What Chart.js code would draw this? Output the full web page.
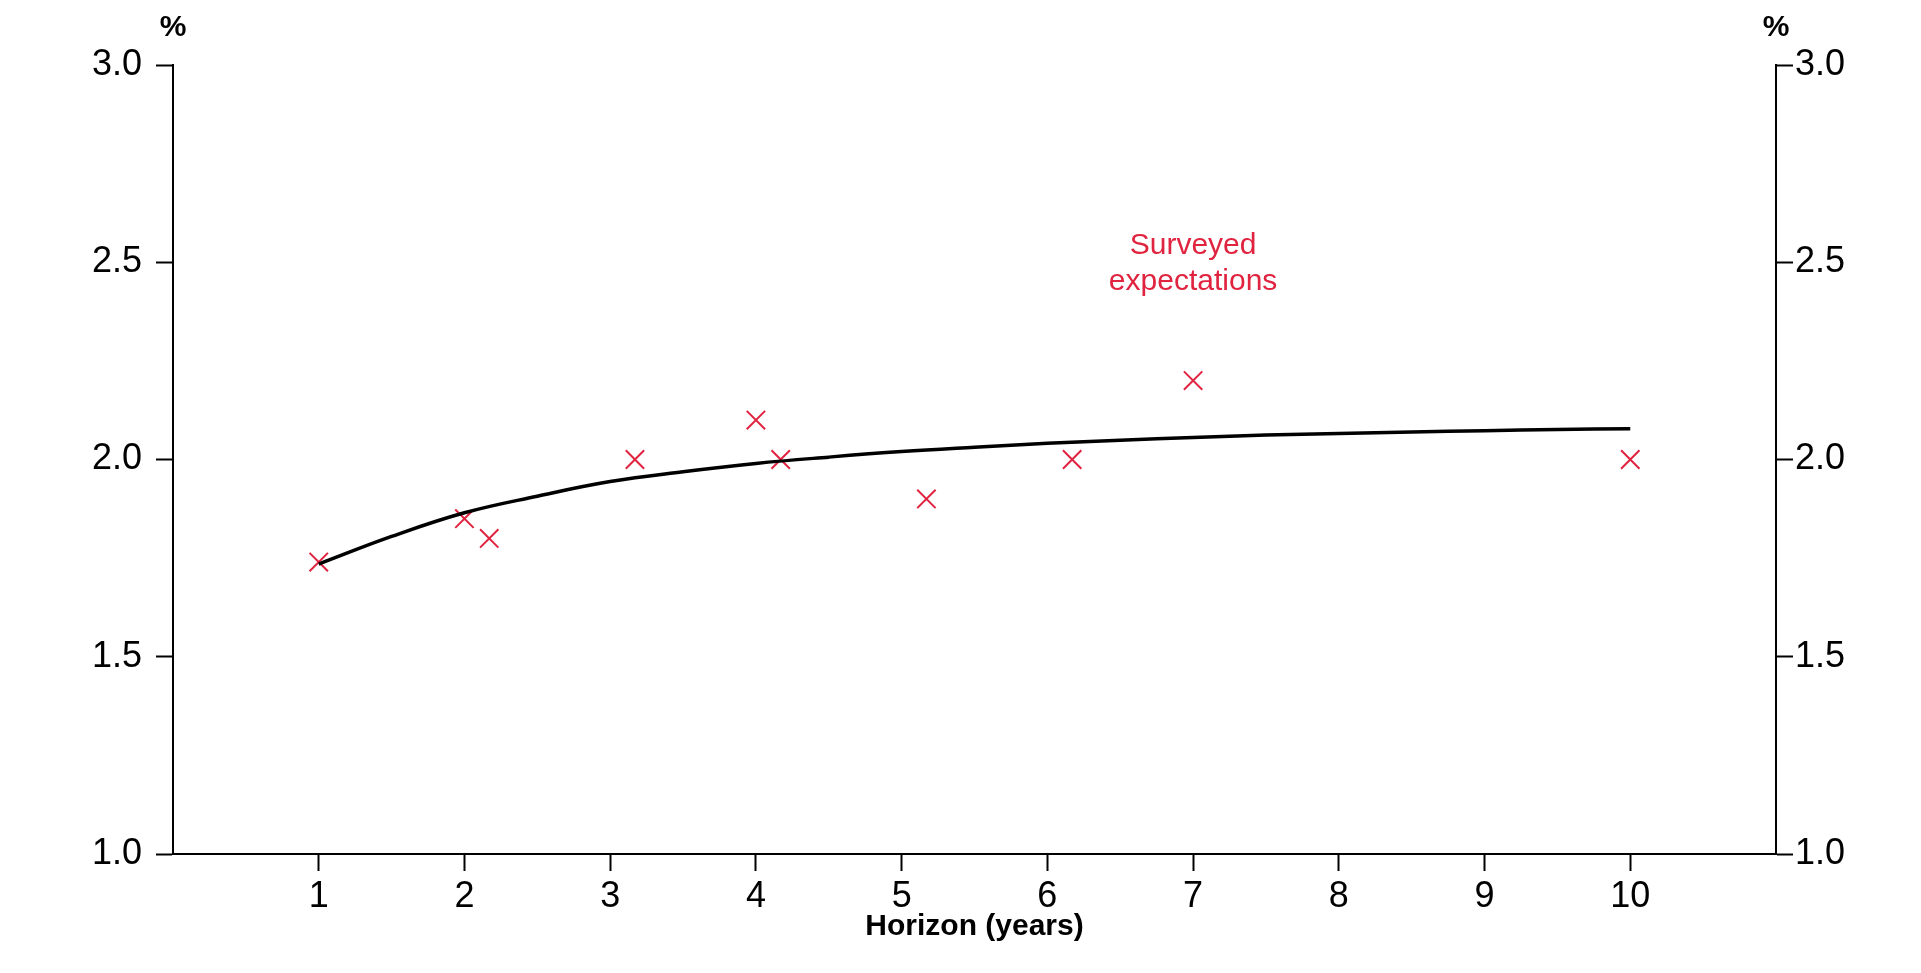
<!DOCTYPE html>
<html>
<head>
<meta charset="utf-8">
<script src="https://cdn.jsdelivr.net/npm/chart.js@4/dist/chart.umd.min.js"></script>
<style>
  html, body { margin: 0; padding: 0; background: #fff; }
  #wrap { width: 1921px; height: 973px; }
</style>
</head>
<body>
<div id="wrap"><canvas id="grafico" width="1921" height="973"></canvas></div>
<script>
// fitted curve, every half year
const curvaX = [1, 1.5, 2, 2.5, 3, 3.5, 4, 4.5, 5, 5.5, 6, 6.5, 7, 7.5, 8, 8.5, 9, 9.5, 10];
const curvaY = [1.735, 1.805, 1.865, 1.907, 1.944, 1.969, 1.99, 2.006, 2.02, 2.031, 2.041, 2.049, 2.056, 2.062, 2.066, 2.07, 2.073, 2.076, 2.078];

// surveyed expectations (crosses)
const encuestaX = [1, 2, 2.17, 3.17, 4, 4.17, 5.17, 6.17, 7, 10];
const encuestaY = [1.74, 1.85, 1.8, 2.0, 2.1, 2.0, 1.9, 2.0, 2.2, 2.0];

const xTicks = [1, 2, 3, 4, 5, 6, 7, 8, 9, 10];
const yTicks = [1.0, 1.5, 2.0, 2.5, 3.0];

const ROJO = "#E0233F";
const FUENTE = "'Liberation Sans', Arial, sans-serif";

const etiquetas = {
  id: "etiquetas",
  afterDraw(chart) {
    const ctx = chart.ctx;
    const x = chart.scales.x, y = chart.scales.y;
    ctx.save();
    // "%" above each axis
    ctx.fillStyle = "#000";
    ctx.font = "bold 30px " + FUENTE;
    ctx.textAlign = "center";
    ctx.textBaseline = "alphabetic";
    ctx.fillText("%", chart.chartArea.left, 36);
    ctx.fillText("%", chart.chartArea.right, 36);
    // series label
    ctx.fillStyle = ROJO;
    ctx.font = "30px " + FUENTE;
    const px = x.getPixelForValue(7);
    const py = y.getPixelForValue(2.52);
    ctx.fillText("Surveyed", px, py);
    ctx.fillText("expectations", px, py + 36);
    ctx.restore();
  }
};

const ejeY = (pos) => ({
  type: "linear",
  position: pos,
  min: 1,
  max: 3,
  afterBuildTicks: s => { s.ticks = yTicks.map(v => ({ value: v })); },
  afterFit: s => { s.width = pos === "left" ? 173 : 145; },
  ticks: {
    color: "#000",
    font: { family: FUENTE, size: 36 },
    padding: pos === "left" ? 14 : 2,
    callback: v => v.toFixed(1)
  },
  grid: { drawOnChartArea: false, drawTicks: true, tickLength: 17, tickWidth: 2, tickColor: "#000" },
  border: { display: true, color: "#000", width: 2 }
});

new Chart(document.getElementById("grafico"), {
  type: "scatter",
  data: {
    datasets: [
      {
        type: "line",
        data: curvaX.map((v, i) => ({ x: v, y: curvaY[i] })),
        borderColor: "#000",
        borderWidth: 3.5,
        pointRadius: 0,
        tension: 0.4,
        fill: false,
        yAxisID: "y"
      },
      {
        data: encuestaX.map((v, i) => ({ x: v, y: encuestaY[i] })),
        pointStyle: "crossRot",
        pointRadius: 13,
        pointBorderWidth: 2,
        borderColor: ROJO,
        backgroundColor: ROJO,
        yAxisID: "y"
      }
    ]
  },
  options: {
    responsive: false,
    animation: false,
    devicePixelRatio: 1,
    layout: { padding: { top: 65, left: 0, right: 0, bottom: 0 } },
    plugins: { legend: { display: false }, tooltip: { enabled: false } },
    scales: {
      x: {
        type: "linear",
        min: 0,
        max: 11,
        afterBuildTicks: s => { s.ticks = xTicks.map(v => ({ value: v })); },
        afterFit: s => { s.height = 119; },
        ticks: { color: "#000", font: { family: FUENTE, size: 36, lineHeight: 1 }, padding: 8, maxRotation: 0 },
        grid: { drawOnChartArea: false, drawTicks: true, tickLength: 17, tickWidth: 2, tickColor: "#000" },
        border: { display: true, color: "#000", width: 2 },
        title: {
          display: true,
          text: "Horizon (years)",
          color: "#000",
          font: { family: FUENTE, size: 30, weight: "bold", lineHeight: 1 },
          padding: { top: 0, bottom: 31 }
        }
      },
      y: ejeY("left"),
      y2: ejeY("right")
    }
  },
  plugins: [etiquetas]
});
</script>
</body>
</html>
